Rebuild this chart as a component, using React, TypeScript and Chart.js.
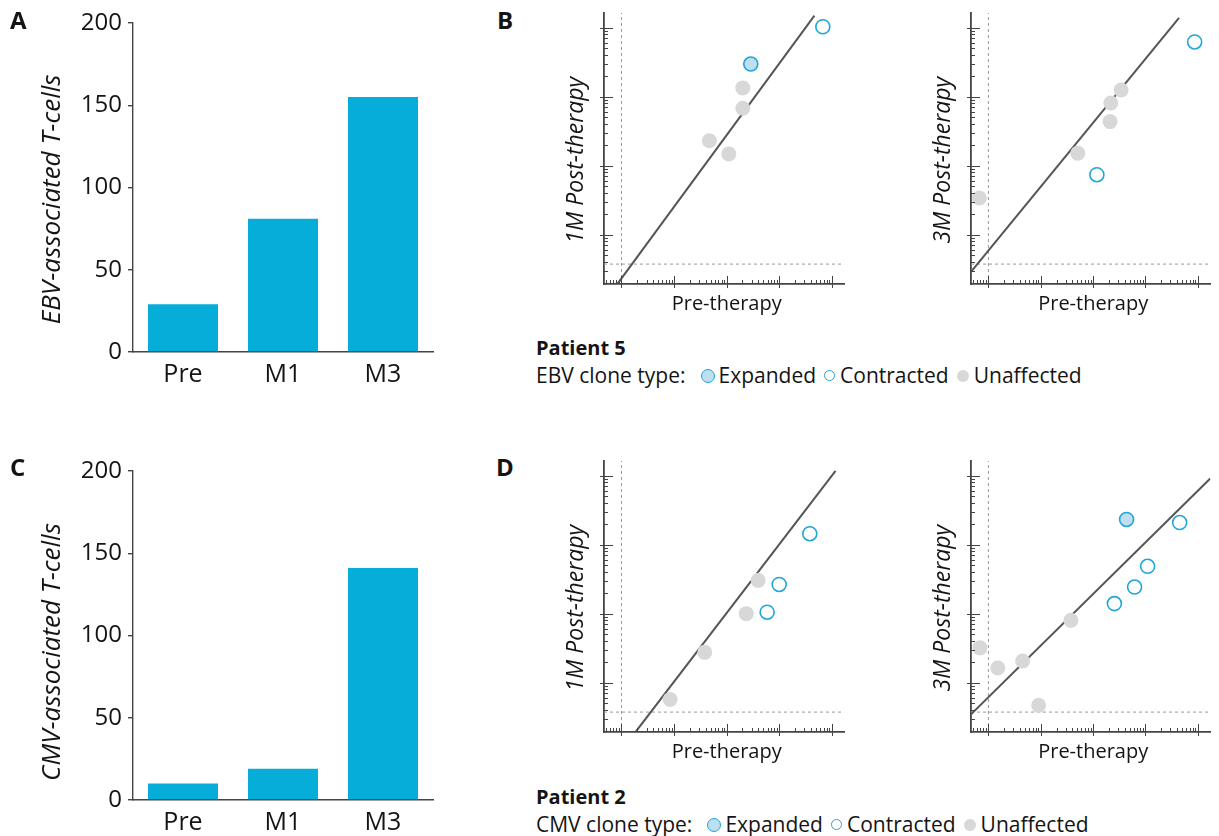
import React, { useEffect, useRef } from 'react';
import { Chart, registerables } from 'chart.js';

Chart.register(...registerables);

const FONT = "'Open Sans', 'DejaVu Sans', sans-serif";
Chart.defaults.font.family = FONT;

// ---------- Bar panels (A, C) ----------
const BAR_CATEGORIES = ['Pre', 'M1', 'M3'];
const EBV_COUNTS = [29, 81, 155];
const CMV_COUNTS = [10, 19, 141];
const BAR_Y_TICKS = [0, 50, 100, 150, 200];

// ---------- Scatter panels (B, D): log-log axes ----------
const X_MIN = 0.465;
const X_MAX = 17400;
const Y_MIN = 0.193;
const Y_MAX = 1630;
const LOD_X = 1;
const LOD_Y = 0.375;

// Patient 5, EBV, 1 month
const EBV1M_EXPANDED = [{ x: 288, y: 297 }];
const EBV1M_CONTRACTED = [{ x: 6760, y: 1030 }];
const EBV1M_UNAFFECTED = [
  { x: 203, y: 134 },
  { x: 203, y: 68 },
  { x: 47, y: 23 },
  { x: 110, y: 14.8 },
];
const EBV1M_FIT = [
  { x: 0.845, y: 0.195 },
  { x: 4680, y: 1490 },
];

// Patient 5, EBV, 3 months
const EBV3M_EXPANDED: { x: number; y: number }[] = [];
const EBV3M_CONTRACTED = [
  { x: 8700, y: 620 },
  { x: 118, y: 7.4 },
];
const EBV3M_UNAFFECTED = [
  { x: 343, y: 125 },
  { x: 218, y: 81 },
  { x: 211, y: 43.5 },
  { x: 51, y: 15.2 },
  { x: 0.67, y: 3.4 },
];
const EBV3M_FIT = [
  { x: 0.473, y: 0.295 },
  { x: 4380, y: 1380 },
];

// Patient 2, CMV, 1 month
const CMV1M_EXPANDED: { x: number; y: number }[] = [];
const CMV1M_CONTRACTED = [
  { x: 3820, y: 144 },
  { x: 1000, y: 26.5 },
  { x: 590, y: 10.5 },
];
const CMV1M_UNAFFECTED = [
  { x: 398, y: 30.4 },
  { x: 236, y: 10 },
  { x: 38.4, y: 2.75 },
  { x: 8.4, y: 0.57 },
];
const CMV1M_FIT = [
  { x: 1.87, y: 0.195 },
  { x: 11800, y: 1170 },
];

// Patient 2, CMV, 3 months
const CMV3M_EXPANDED = [{ x: 436, y: 232 }];
const CMV3M_CONTRACTED = [
  { x: 4500, y: 209 },
  { x: 1100, y: 48.6 },
  { x: 620, y: 24.3 },
  { x: 255, y: 14 },
];
const CMV3M_UNAFFECTED = [
  { x: 37.6, y: 8 },
  { x: 0.69, y: 3.2 },
  { x: 1.51, y: 1.63 },
  { x: 4.5, y: 2.06 },
  { x: 9.1, y: 0.47 },
];
const CMV3M_FIT = [
  { x: 0.46, y: 0.345 },
  { x: 17300, y: 910 },
];

// ---------- styles ----------
const BAR_COLOR = '#06ADD9';
const AXIS_COLOR = '#444444';
const TEXT_COLOR = '#141414';
const BLUE = '#1EA7D8';
const EXPANDED_FILL = '#BEDFF0';
const GRAY = '#D8D8D8';
const DASH_COLOR = '#9A9A9A';
const FIT_COLOR = '#555555';

type Pt = { x: number; y: number };

const axisTextPlugin = {
  id: 'axisText',
  afterDraw(chart: any, _args: any, opts: any) {
    const a = chart.chartArea;
    const ctx = chart.ctx;
    (opts.items || []).forEach((it: any) => {
      const x = it.axis === 'y' ? a.left + it.dx : (a.left + a.right) / 2 + it.dx;
      const y = it.axis === 'y' ? (a.top + a.bottom) / 2 + it.dy : a.bottom + it.dy;
      ctx.save();
      ctx.font = it.font;
      ctx.fillStyle = TEXT_COLOR;
      ctx.textAlign = 'center';
      ctx.textBaseline = 'alphabetic';
      ctx.translate(x, y);
      if (it.axis === 'y') ctx.rotate(-Math.PI / 2);
      ctx.fillText(it.text, 0, 0);
      ctx.restore();
    });
  },
};

const logTicksPlugin = {
  id: 'logTicks',
  afterDraw(chart: any) {
    const { ctx, chartArea: a } = chart;
    const xs = chart.scales.x;
    const ys = chart.scales.y;
    const values = (s: any) => {
      const out: { v: number; major: boolean }[] = [];
      for (let e = -2; e <= 5; e++) {
        for (let m = 1; m <= 9; m++) {
          const v = m * Math.pow(10, e);
          if (v >= s.min && v <= s.max) out.push({ v, major: m === 1 });
        }
      }
      return out;
    };
    ctx.save();
    ctx.strokeStyle = AXIS_COLOR;
    ctx.lineWidth = 1;
    values(xs).forEach((t) => {
      const px = Math.round(xs.getPixelForValue(t.v)) + 0.5;
      ctx.beginPath();
      ctx.moveTo(px, a.bottom + (t.major ? 4 : 0));
      ctx.lineTo(px, a.bottom - (t.major ? 8 : 4));
      ctx.stroke();
    });
    values(ys).forEach((t) => {
      const py = Math.round(ys.getPixelForValue(t.v)) + 0.5;
      ctx.beginPath();
      ctx.moveTo(a.left - (t.major ? 4 : 0), py);
      ctx.lineTo(a.left + (t.major ? 9 : 4), py);
      ctx.stroke();
    });
    ctx.restore();
  },
};

function barConfig(values: number[], title: string, titleShift: number): any {
  return {
    type: 'bar',
    data: {
      labels: BAR_CATEGORIES,
      datasets: [
        {
          data: values,
          backgroundColor: BAR_COLOR,
          borderWidth: 0,
          barPercentage: 0.7,
          categoryPercentage: 1,
        },
      ],
    },
    options: {
      responsive: false,
      animation: false,
      layout: { padding: { top: 23, right: 7, left: 0, bottom: 0 } },
      plugins: {
        legend: { display: false },
        tooltip: { enabled: false },
        axisText: {
          items: [
            { axis: 'y', text: title, dx: -73.5, dy: titleShift, font: `italic 26px ${FONT}` },
          ],
        },
      },
      scales: {
        x: {
          grid: { display: false, drawTicks: false },
          border: { display: true, color: AXIS_COLOR, width: 1.4 },
          ticks: { font: { size: 25 }, color: TEXT_COLOR, padding: 8 },
          afterFit: (s: any) => {
            s.height = 48;
          },
        },
        y: {
          min: 0,
          max: 200,
          afterBuildTicks: (s: any) => {
            s.ticks = BAR_Y_TICKS.map((v) => ({ value: v }));
          },
          grid: {
            display: true,
            drawOnChartArea: false,
            drawTicks: true,
            tickLength: 5,
            color: AXIS_COLOR,
            lineWidth: 1.4,
          },
          border: { display: true, color: AXIS_COLOR, width: 1.4 },
          ticks: { font: { size: 24 }, color: TEXT_COLOR, padding: 6 },
          afterFit: (s: any) => {
            s.width = 133;
          },
        },
      },
    },
    plugins: [axisTextPlugin],
  };
}

function scatterConfig(
  expanded: Pt[],
  contracted: Pt[],
  unaffected: Pt[],
  fit: Pt[],
  yTitle: string
): any {
  return {
    type: 'scatter',
    data: {
      datasets: [
        {
          data: expanded,
          backgroundColor: EXPANDED_FILL,
          borderColor: BLUE,
          borderWidth: 1.6,
          pointRadius: 7,
          order: 0,
          clip: false,
        },
        {
          data: contracted,
          backgroundColor: 'rgba(255,255,255,0)',
          borderColor: BLUE,
          borderWidth: 1.6,
          pointRadius: 7,
          order: 1,
          clip: false,
        },
        {
          data: unaffected,
          backgroundColor: GRAY,
          borderColor: GRAY,
          borderWidth: 0,
          pointRadius: 7.5,
          order: 2,
          clip: false,
        },
        {
          type: 'line',
          data: fit,
          borderColor: FIT_COLOR,
          borderWidth: 2,
          pointRadius: 0,
          order: 3,
        },
        {
          type: 'line',
          data: [
            { x: LOD_X, y: Y_MIN },
            { x: LOD_X, y: Y_MAX },
          ],
          borderColor: DASH_COLOR,
          borderWidth: 1,
          borderDash: [3, 3],
          pointRadius: 0,
          order: 4,
        },
        {
          type: 'line',
          data: [
            { x: X_MIN, y: LOD_Y },
            { x: X_MAX, y: LOD_Y },
          ],
          borderColor: DASH_COLOR,
          borderWidth: 1,
          borderDash: [3, 3],
          pointRadius: 0,
          order: 5,
        },
      ],
    },
    options: {
      responsive: false,
      animation: false,
      layout: { padding: { top: 13, right: 0, left: 0, bottom: 0 } },
      plugins: {
        legend: { display: false },
        tooltip: { enabled: false },
        axisText: {
          items: [
            { axis: 'y', text: yTitle, dx: -21, dy: 11.7, font: `italic 23px ${FONT}` },
            { axis: 'x', text: 'Pre-therapy', dx: 2.5, dy: 26, font: `20px ${FONT}` },
          ],
        },
      },
      scales: {
        x: {
          type: 'logarithmic',
          min: X_MIN,
          max: X_MAX,
          ticks: { display: false },
          grid: { display: false, drawTicks: false },
          border: { display: true, color: AXIS_COLOR, width: 1.8 },
          afterFit: (s: any) => {
            s.height = 46;
          },
        },
        y: {
          type: 'logarithmic',
          min: Y_MIN,
          max: Y_MAX,
          ticks: { display: false },
          grid: { display: false, drawTicks: false },
          border: { display: true, color: AXIS_COLOR, width: 1.8 },
          afterFit: (s: any) => {
            s.width = 49;
          },
        },
      },
    },
    plugins: [axisTextPlugin, logTicksPlugin],
  };
}

function ChartBox({
  config,
  left,
  top,
  width,
  height,
}: {
  config: any;
  left: number;
  top: number;
  width: number;
  height: number;
}) {
  const ref = useRef<HTMLCanvasElement | null>(null);
  useEffect(() => {
    if (!ref.current) return;
    const chart = new Chart(ref.current, config);
    return () => chart.destroy();
  }, [config]);
  return (
    <canvas
      ref={ref}
      width={width}
      height={height}
      style={{ position: 'absolute', left, top, width, height }}
    />
  );
}

function Text({
  left,
  top,
  children,
  size = 20,
  bold = false,
}: {
  left: number;
  top: number;
  children: React.ReactNode;
  size?: number;
  bold?: boolean;
}) {
  return (
    <div
      style={{
        position: 'absolute',
        left,
        top,
        fontSize: size,
        lineHeight: `${Math.round(size * 1.2)}px`,
        fontWeight: bold ? 700 : 400,
        color: TEXT_COLOR,
        whiteSpace: 'nowrap',
      }}
    >
      {children}
    </div>
  );
}

function Dot({ r, fill, border }: { r: number; fill: string; border: string | null }) {
  return (
    <span
      style={{
        display: 'inline-block',
        width: 2 * r,
        height: 2 * r,
        borderRadius: '50%',
        boxSizing: 'border-box',
        background: fill,
        border: border ? `1.5px solid ${border}` : 'none',
        flex: 'none',
      }}
    />
  );
}

function LegendBlock({ top, patient, virus }: { top: number; patient: string; virus: string }) {
  return (
    <>
      <Text left={536} top={top} bold>
        {patient}
      </Text>
      <div
        style={{
          position: 'absolute',
          left: 536,
          top: top + 27,
          height: 25,
          display: 'flex',
          alignItems: 'center',
          fontSize: 21,
          lineHeight: '25px',
          color: TEXT_COLOR,
          whiteSpace: 'nowrap',
        }}
      >
        <span style={{ marginRight: 15 }}>{`${virus} clone type:`}</span>
        <Dot r={7} fill={EXPANDED_FILL} border={BLUE} />
        <span style={{ marginLeft: 4, marginRight: 8 }}>Expanded</span>
        <Dot r={5.5} fill="#fff" border={BLUE} />
        <span style={{ marginLeft: 5, marginRight: 8 }}>Contracted</span>
        <Dot r={6} fill={GRAY} border={null} />
        <span style={{ marginLeft: 5 }}>Unaffected</span>
      </div>
    </>
  );
}

const CONFIGS = {
  a: barConfig(EBV_COUNTS, 'EBV-associated T-cells', 11.8),
  c: barConfig(CMV_COUNTS, 'CMV-associated T-cells', 16.5),
  b1: scatterConfig(EBV1M_EXPANDED, EBV1M_CONTRACTED, EBV1M_UNAFFECTED, EBV1M_FIT, '1M Post-therapy'),
  b3: scatterConfig(EBV3M_EXPANDED, EBV3M_CONTRACTED, EBV3M_UNAFFECTED, EBV3M_FIT, '3M Post-therapy'),
  d1: scatterConfig(CMV1M_EXPANDED, CMV1M_CONTRACTED, CMV1M_UNAFFECTED, CMV1M_FIT, '1M Post-therapy'),
  d3: scatterConfig(CMV3M_EXPANDED, CMV3M_CONTRACTED, CMV3M_UNAFFECTED, CMV3M_FIT, '3M Post-therapy'),
};

export default function App() {
  return (
    <div
      style={{
        position: 'absolute',
        left: 0,
        top: 0,
        width: 1219,
        height: 836,
        overflow: 'hidden',
        background: '#fff',
        fontFamily: FONT,
      }}
    >
      <ChartBox config={CONFIGS.a} left={0} top={0} width={440} height={400} />
      <ChartBox config={CONFIGS.c} left={0} top={448} width={440} height={400} />
      <ChartBox config={CONFIGS.b1} left={555} top={0} width={298} height={330} />
      <ChartBox config={CONFIGS.b3} left={922} top={0} width={297} height={330} />
      <ChartBox config={CONFIGS.d1} left={555} top={448} width={298} height={330} />
      <ChartBox config={CONFIGS.d3} left={922} top={448} width={297} height={330} />

      <Text left={10} top={5} size={24} bold>
        A
      </Text>
      <Text left={497} top={5} size={24} bold>
        B
      </Text>
      <Text left={10} top={452} size={24} bold>
        C
      </Text>
      <Text left={496} top={452} size={24} bold>
        D
      </Text>

      <LegendBlock top={336} patient="Patient 5" virus="EBV" />
      <LegendBlock top={785} patient="Patient 2" virus="CMV" />
    </div>
  );
}
